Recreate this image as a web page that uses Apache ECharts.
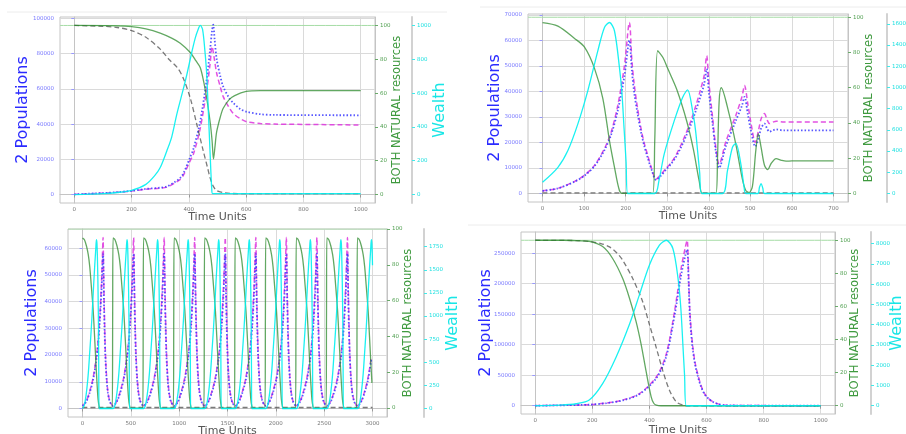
<!DOCTYPE html>
<html>
<head>
<meta charset="utf-8">
<title>Two populations, natural resources and wealth</title>
<script src="https://cdn.jsdelivr.net/npm/echarts@6/dist/echarts.min.js"></script>
<style>
  html, body { margin: 0; padding: 0; background: #fff; }
  #main { width: 906px; height: 434px; }
</style>
</head>
<body>
<div id="main"></div>
<script>
// ---- shared ticks
const natureTicks = [0, 20, 40, 60, 80, 100];

// ---- run 1 (top left): overshoot, then equilibrium
const run1TimeTicks = [0, 200, 400, 600, 800, 1000];
const run1PopTicks = [0, 20000, 40000, 60000, 80000, 100000];
const run1WealthTicks = [0, 200, 400, 600, 800, 1000];
const run1Pop1 = [[0,100],[100,800],[150,1300],[200,2000],[250,3000],[300,3600],[323,4200],[350,6500],[369,8500],[381,11000],[404,19000],[416,23000],[439,37000],[462,59000],[474,74000],[481,84000],[488,78000],[497,69000],[510,61000],[520,55600],[540,49500],[555,46000],[580,43000],[602,41300],[650,40300],[700,40000],[1000,39500]];
const run1Pop2 = [[0,100],[100,850],[150,1400],[200,2100],[250,3200],[300,3900],[323,4600],[350,7000],[369,9300],[381,12000],[404,21000],[416,26000],[439,41000],[462,65000],[474,82000],[481,93000],[485,96500],[490,88000],[497,77000],[510,67000],[520,61300],[540,55000],[555,52000],[580,48500],[602,47000],[650,45600],[700,45200],[1000,45000]];
const run1Nature1 = [[0,100],[150,99.8],[200,99.3],[250,98],[300,95.5],[340,92.5],[370,89.5],[405,84],[425,79],[440,75],[455,64],[465,54],[475,42],[481,32],[486,21],[491,28],[497,37],[510,46],[520,51],[540,56],[560,58.5],[600,61],[650,61.5],[1000,61.5]];
const run1Nature2 = [[0,100],[100,99.5],[150,98.8],[200,97],[250,93],[300,86],[330,80],[360,75],[380,69],[405,57],[427,42],[450,26],[465,16],[474,10],[485,5],[497,2.4],[520,1.2],[543,0.7],[600,0.5],[1000,0.5]];
const run1Wealth = [[0,0],[100,5],[150,12],[200,25],[250,60],[280,110],[300,160],[323,258],[340,340],[358,476],[380,620],[393,710],[410,840],[422,924],[432,975],[440,1000],[448,975],[456,850],[462,720],[468,494],[474,250],[480,30],[483,5],[1000,5]];

// ---- run 2 (top right): damped oscillations
const run2TimeTicks = [0, 100, 200, 300, 400, 500, 600, 700];
const run2PopTicks = [0, 10000, 20000, 30000, 40000, 50000, 60000, 70000];
const run2WealthTicks = [0, 200, 400, 600, 800, 1000, 1200, 1400, 1600];
const run2Pop1 = [[0,1000],[37,2000],[77,4700],[101,7200],[125,11000],[149,17600],[165,24000],[181,34500],[197,50000],[209,67000],[215,52000],[221,42300],[229,33000],[237,25400],[245,19500],[253,15000],[263,9500],[273,5600],[285,7500],[297,9800],[309,12000],[321,15000],[333,19000],[345,23500],[357,28500],[369,34500],[379,40000],[389,46300],[395,54000],[400,44000],[409,30000],[417,18000],[425,11500],[441,20300],[465,30600],[480,38000],[486,42300],[494,35000],[501,28100],[512,20000],[520,25000],[526,29300],[534,31300],[540,29000],[546,27400],[555,28000],[562,28300],[580,28000],[700,28000]];
const run2Pop2 = [[0,1000],[37,2000],[77,4600],[101,7000],[125,10700],[149,17000],[165,23000],[181,32500],[197,46000],[209,60000],[215,48000],[221,39000],[229,31000],[237,24000],[245,18500],[253,14000],[263,9000],[273,5300],[285,7000],[297,9300],[309,11500],[321,14300],[333,18000],[345,22300],[357,27000],[369,32500],[379,37500],[389,43000],[395,48900],[400,40000],[409,27500],[417,16500],[425,10000],[441,18500],[465,28500],[480,34500],[486,37900],[494,31000],[501,25000],[512,18400],[520,22000],[526,25500],[534,27400],[540,25500],[546,24200],[555,24800],[562,25100],[580,24700],[700,24700]];
const run2Nature1 = [[0,97],[37,95],[77,88],[101,83],[125,71],[145,54],[161,30],[173,15],[185,1.7],[193,0],[265,0],[270,30],[277,81],[290,77],[301,71],[323,59],[347,41],[363,25],[377,7],[385,0],[417,0],[421,20],[425,52.5],[430,60],[449,45],[465,28],[481,8],[489,1.7],[497,0.5],[505,4],[513,24],[519,34],[526,26],[534,16],[542,13.5],[550,17],[562,19.8],[575,18.8],[586,18.3],[600,18.5],[700,18.5]];
const run2Nature2 = [[0,0.3],[700,0.3]];
const run2Wealth = [[0,106],[37,247],[61,405],[85,656],[109,970],[133,1345],[149,1565],[161,1612],[173,1534],[185,1189],[191,950],[196,624],[201,300],[205,0],[270,0],[280,120],[293,376],[317,687],[337,906],[349,976],[361,781],[368,600],[373,405],[378,200],[383,0],[433,0],[445,216],[457,436],[465,473],[477,282],[485,59],[489,0],[518,0],[522,59],[526,94],[530,50],[534,0],[700,0]];

const run3TimeTicks = [0, 500, 1000, 1500, 2000, 2500, 3000];
const run3PopTicks = [0, 10000, 20000, 30000, 40000, 50000, 60000];
const run3WealthTicks = [0, 250, 500, 750, 1000, 1250, 1500, 1750];
const run3CycleStarts = [0, 316, 632, 948, 1264, 1580, 1896, 2212, 2528, 2844];
const run3CyclePop1 = [[0,1000],[40,2800],[75,6500],[110,11500],[144,19500],[160,25000],[178,34000],[195,46000],[205,56000],[213,64000],[217,56000],[222,44000],[228,33000],[236,22000],[248,12500],[262,6500],[280,3000],[300,1500]];
const run3CyclePop2 = [[0,950],[40,2600],[75,6000],[110,10800],[144,18500],[160,23500],[178,32000],[195,43000],[205,52000],[213,58000],[217,51000],[222,40000],[228,30000],[236,20000],[248,11500],[262,6000],[280,2800],[300,1400]];
const run3CycleNature1 = [[0,95],[20,94],[41,90.5],[60,85.5],[75,79],[90,69],[110,55],[125,40],[137,27],[150,14],[161,5],[172,1],[180,0],[308,0],[312,50]];
const run3CycleWealth = [[0,0],[20,40],[41,177],[60,380],[75,612],[90,850],[103,1087],[115,1330],[127,1554],[137,1720],[144,1826],[150,1780],[156,1550],[161,1264],[165,900],[168,450],[171,0]];
const run3Nature2 = [[0,0.3],[3000,0.3]];

// ---- run 4 (bottom right): full collapse
const run4TimeTicks = [0, 200, 400, 600, 800, 1000];
const run4PopTicks = [0, 50000, 100000, 150000, 200000, 250000];
const run4WealthTicks = [0, 1000, 2000, 3000, 4000, 5000, 6000, 7000, 8000];
const run4Pop1 = [[0,100],[100,800],[189,1800],[250,4500],[306,9250],[365,20000],[424,47000],[459,85000],[488,155000],[511,225000],[525,258000],[532,271000],[537,215000],[541,160000],[546,125000],[552,96000],[560,70000],[569,52000],[580,34000],[593,20000],[608,11500],[623,6500],[640,3000],[657,1100],[680,400],[1000,0]];
const run4Pop2 = [[0,100],[100,780],[189,1700],[250,4300],[306,8800],[365,19000],[424,45000],[459,81000],[488,148000],[511,214000],[525,245000],[532,256000],[537,205000],[541,152000],[546,119000],[552,91000],[560,67000],[569,49000],[580,32000],[593,19000],[608,11000],[623,6200],[640,2800],[657,1000],[680,400],[1000,0]];
const run4Nature1 = [[0,100],[100,100],[150,99.7],[189,99.3],[236,96.2],[271,89],[306,77],[330,65],[353,51],[371,37],[388,21],[406,5.4],[415,1.5],[424,0.4],[440,0],[1000,0]];
const run4Nature2 = [[0,100],[150,99.8],[189,99.3],[230,98],[260,96],[285,92.5],[306,88],[341,77],[376,63],[400,49],[424,35],[447,21],[470,9.4],[494,2.4],[517,0.4],[540,0],[1000,0]];
const run4Wealth = [[0,0],[84,30],[143,98],[189,278],[236,1088],[283,2391],[330,4016],[365,5480],[400,6944],[435,7920],[459,8164],[482,7760],[500,6295],[510,4800],[517,3040],[523,1500],[529,0],[1000,0]];

function repeatCycle(starts, cycle, tEnd) {
  const out = [];
  starts.forEach(function (s) {
    cycle.forEach(function (pt) {
      if (s + pt[0] <= tEnd) out.push([s + pt[0], pt[1]]);
    });
  });
  return out;
}

const panels = [
  { box: { left: 60, top: 17, width: 315, height: 186 },
    x: [-50, 1050], xStep: 200, xTicks: run1TimeTicks,
    pop: [-4800, 100800], popStep: 20000, popTicks: run1PopTicks,
    nat: [-5, 105], wea: [-50, 1050], weaStep: 200, weaTicks: run1WealthTicks,
    weaOffset: 37, gaps: [29, 16, 20, 9],
    pop1: run1Pop1, pop2: run1Pop2, nat1: run1Nature1, nat2: run1Nature2, wealth: run1Wealth },
  { box: { left: 528, top: 14, width: 320, height: 188 },
    x: [-35, 735], xStep: 100, xTicks: run2TimeTicks,
    pop: [-3350, 70350], popStep: 10000, popTicks: run2PopTicks,
    nat: [-4.85, 101.85], wea: [-80, 1692], weaStep: 200, weaTicks: run2WealthTicks,
    weaOffset: 39, gaps: [25, 15, 20, 9],
    pop1: run2Pop1, pop2: run2Pop2, nat1: run2Nature1, nat2: run2Nature2, wealth: run2Wealth },
  { box: { left: 68, top: 229, width: 319, height: 188 },
    x: [-150, 3150], xStep: 500, xTicks: run3TimeTicks,
    pop: [-3200, 67200], popStep: 10000, popTicks: run3PopTicks,
    nat: [-5, 100], wea: [-92, 1942], weaStep: 250, weaTicks: run3WealthTicks,
    weaOffset: 37, gaps: [28, 15, 21, 9],
    pop1: repeatCycle(run3CycleStarts, run3CyclePop1, 3000),
    pop2: repeatCycle(run3CycleStarts, run3CyclePop2, 3000),
    nat1: repeatCycle(run3CycleStarts, run3CycleNature1, 3000),
    nat2: run3Nature2,
    wealth: repeatCycle(run3CycleStarts, run3CycleWealth, 3000) },
  { box: { left: 521, top: 232, width: 314, height: 182 },
    x: [-50, 1050], xStep: 200, xTicks: run4TimeTicks,
    pop: [-13550, 284550], popStep: 50000, popTicks: run4PopTicks,
    nat: [-5, 105], wea: [-408, 8572], weaStep: 1000, weaTicks: run4WealthTicks,
    weaOffset: 36, gaps: [27, 14, 18, 11],
    pop1: run4Pop1, pop2: run4Pop2, nat1: run4Nature1, nat2: run4Nature2, wealth: run4Wealth }
];

const grids = [], xAxes = [], yAxes = [], series = [];
const tickFont = 5.5;
const fmt = function (v) { return String(v); };

function line(data, xi, yi, color, width, dash, z, opacity) {
  return {
    type: 'line', data: data, xAxisIndex: xi, yAxisIndex: yi,
    showSymbol: false, symbol: 'none', smooth: 0.3, animation: false, z: z,
    lineStyle: { color: color, width: width, type: dash || 'solid', opacity: opacity == null ? 1 : opacity }
  };
}

panels.forEach(function (p, i) {
  grids.push(Object.assign({
    show: true, borderColor: '#c4c4c4', borderWidth: 1, backgroundColor: '#fff',
    containLabel: false, outerBoundsMode: 'none'
  }, p.box));
  xAxes.push({
    type: 'value', gridIndex: i, min: p.x[0], max: p.x[1],
    minInterval: p.xStep, maxInterval: p.xStep,
    name: 'Time Units', nameLocation: 'middle', nameGap: p.gaps[3], nameMoveOverlap: false,
    nameTextStyle: { color: '#555', fontSize: 11, fontFamily: 'DejaVu Sans' },
    axisLine: { show: true, lineStyle: { color: '#c4c4c4' } },
    axisTick: { show: true, length: 3, customValues: p.xTicks, lineStyle: { color: '#999' } },
    axisLabel: { customValues: p.xTicks, fontSize: tickFont, color: '#777', margin: 4, formatter: fmt },
    splitLine: { show: true, lineStyle: { color: '#dadada', width: 1 } }
  });
  const base = yAxes.length;
  yAxes.push({
    type: 'value', gridIndex: i, position: 'left', min: p.pop[0], max: p.pop[1],
    minInterval: p.popStep, maxInterval: p.popStep,
    name: '2 Populations', nameLocation: 'middle', nameRotate: 90, nameGap: p.gaps[0], nameMoveOverlap: false,
    nameTextStyle: { color: '#2b2bff', fontSize: 16, fontFamily: 'DejaVu Sans' },
    axisLine: { show: true, lineStyle: { color: '#c4c4c4' } },
    axisTick: { show: true, length: 3, customValues: p.popTicks, lineStyle: { color: '#9999ff' } },
    axisLabel: { customValues: p.popTicks, fontSize: tickFont, color: '#7a7aff', margin: 6, formatter: fmt },
    splitLine: { show: true, lineStyle: { color: '#dadada', width: 1 } }
  });
  yAxes.push({
    type: 'value', gridIndex: i, position: 'right', min: p.nat[0], max: p.nat[1],
    minInterval: 20, maxInterval: 20,
    name: 'BOTH NATURAL resources', nameLocation: 'middle', nameRotate: 90, nameGap: p.gaps[1], nameMoveOverlap: false,
    nameTextStyle: { color: '#3f9a3f', fontSize: 11.5, fontFamily: 'DejaVu Sans' },
    axisLine: { show: true, lineStyle: { color: '#c4c4c4' } },
    axisTick: { show: true, length: 3, customValues: natureTicks, lineStyle: { color: '#6aaa6a' } },
    axisLabel: { customValues: natureTicks, fontSize: tickFont, color: '#4f9f4f', margin: 5, formatter: fmt },
    splitLine: { show: false }
  });
  yAxes.push({
    type: 'value', gridIndex: i, position: 'right', offset: p.weaOffset, min: p.wea[0], max: p.wea[1],
    minInterval: p.weaStep, maxInterval: p.weaStep,
    name: 'Wealth', nameLocation: 'middle', nameRotate: 90, nameGap: p.gaps[2], nameMoveOverlap: false,
    nameTextStyle: { color: '#19e6e6', fontSize: 16, fontFamily: 'DejaVu Sans' },
    axisLine: { show: true, lineStyle: { color: '#d2d2d2', width: 2 } },
    axisTick: { show: true, length: 3, customValues: p.weaTicks, lineStyle: { color: '#40eaea' } },
    axisLabel: { customValues: p.weaTicks, fontSize: tickFont, color: '#20e0e0', margin: 5, formatter: fmt },
    splitLine: { show: false }
  });
  series.push(line(p.pop1, i, base, '#dd33dd', 1.5, [5, 3], 3, 0.85));
  series.push(line(p.pop2, i, base, '#3a3aff', 1.8, [1.5, 2], 4, 0.85));
  series.push(line(p.nat2, i, base + 1, '#333333', 1.3, [5, 3], 5, 0.65));
  series.push(line(p.nat1, i, base + 1, '#2e8b2e', 1.3, 'solid', 6, 0.75));
  series.push(line([[p.x[0], 100], [p.x[1], 100]], i, base + 1, '#a6dca6', 1, 'solid', 2, 1));
  series.push(line(p.wealth, i, base + 2, '#00f0f0', 1.3, 'solid', 7, 0.9));
});

const chart = echarts.init(document.getElementById('main'), null, { renderer: 'canvas' });
chart.setOption({
  backgroundColor: '#fff',
  animation: false,
  textStyle: { fontFamily: 'DejaVu Sans' },
  // faint edges of the four pasted screenshots
  graphic: [
    { type: 'line', shape: { x1: 7, y1: 12, x2: 447, y2: 12 }, style: { stroke: '#ececec', lineWidth: 1 }, silent: true },
    { type: 'line', shape: { x1: 480, y1: 7, x2: 906, y2: 7 }, style: { stroke: '#ececec', lineWidth: 1 }, silent: true },
    { type: 'line', shape: { x1: 468, y1: 225, x2: 906, y2: 225 }, style: { stroke: '#ececec', lineWidth: 1 }, silent: true }
  ],
  grid: grids,
  xAxis: xAxes,
  yAxis: yAxes,
  series: series
});
</script>
</body>
</html>
